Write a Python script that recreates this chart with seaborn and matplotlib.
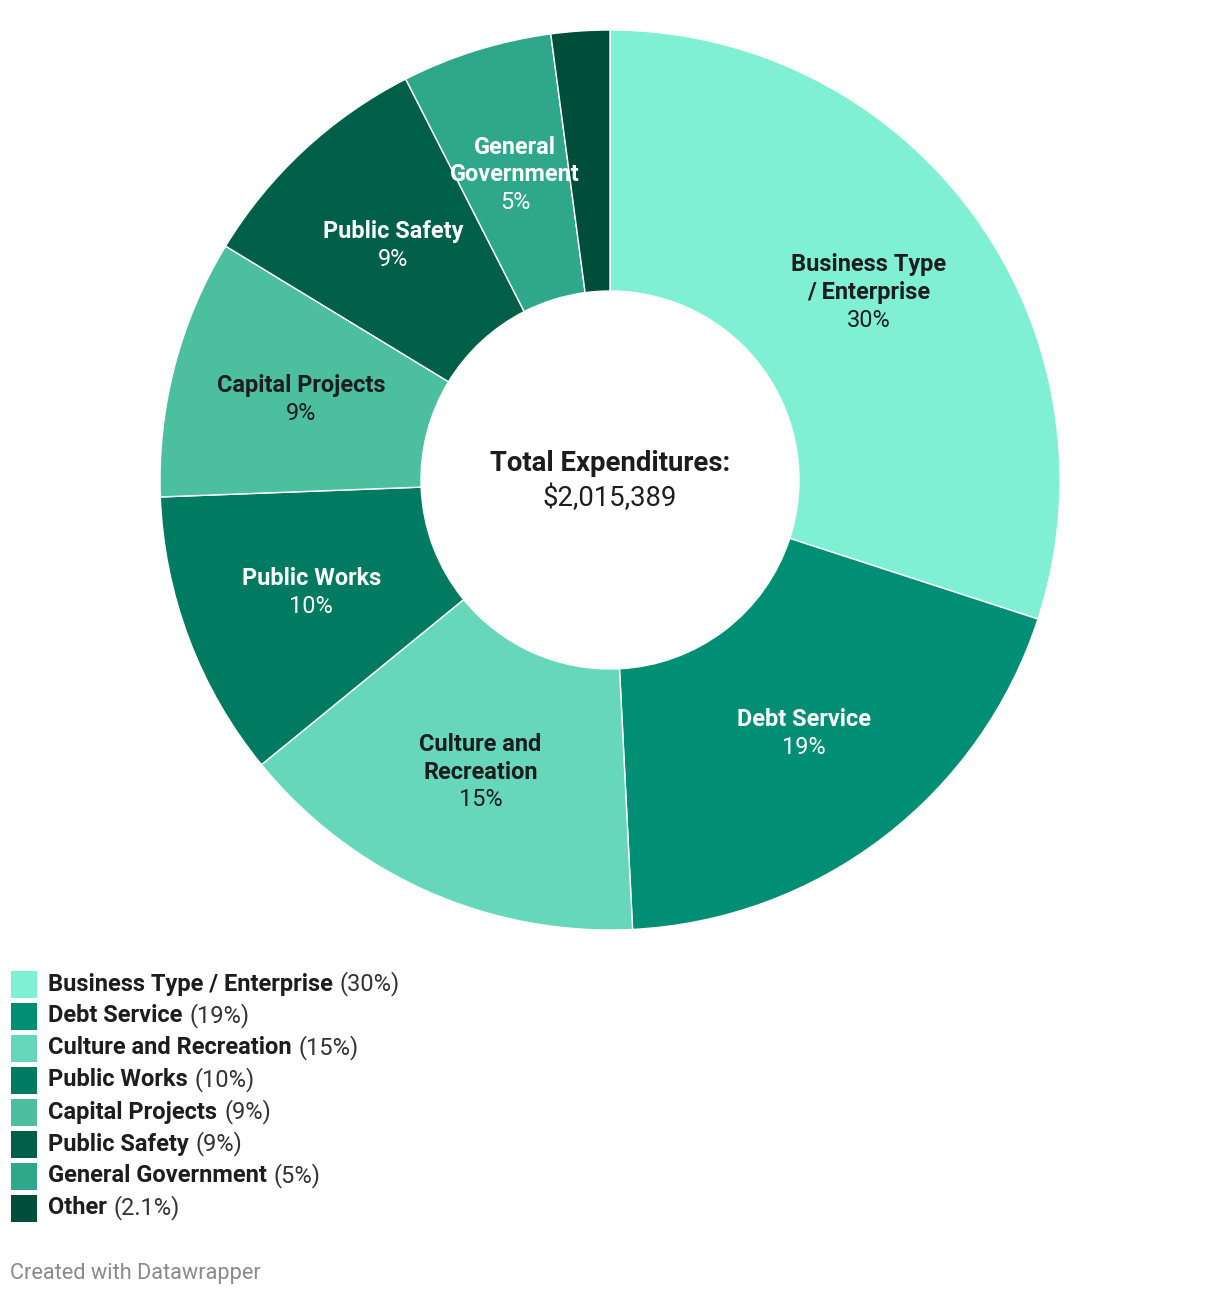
import matplotlib
matplotlib.use("Agg")
import matplotlib.pyplot as plt
import seaborn as sns
import numpy as np
from matplotlib.patches import Rectangle

categories = ["Business Type / Enterprise", "Debt Service", "Culture and Recreation",
              "Public Works", "Capital Projects", "Public Safety", "General Government", "Other"]
wedge_labels = ["Business Type\n/ Enterprise", "Debt Service", "Culture and\nRecreation",
                "Public Works", "Capital Projects", "Public Safety", "General\nGovernment", ""]
shares = [30.0, 19.2, 14.9, 10.3, 9.3, 8.8, 5.4, 2.1]
pct_labels = ["30%", "19%", "15%", "10%", "9%", "9%", "5%", "2.1%"]
colors = ["#7ff0d3", "#008f74", "#66d7bb", "#007a60", "#4cbf9f", "#005f49", "#2fa78b", "#004e3a"]
text_colors = ["#1d1d1d", "white", "#1d1d1d", "white", "#1d1d1d", "white", "white", "white"]
total_label = "Total Expenditures:"
total_value = "$2,015,389"

sns.set_theme(style="white")
plt.rcParams['font.family'] = ['Roboto', 'DejaVu Sans']

W, H = 1220, 1298
fig = plt.figure(figsize=(W / 100, H / 100), dpi=100)
fig.patch.set_facecolor("white")

cx, cy, R, r_in = 610, 480, 450, 189
ax = fig.add_axes([(cx - R) / W, (H - cy - R) / H, 2 * R / W, 2 * R / H])
palette = sns.color_palette(colors)
wedges, _ = ax.pie(shares, colors=palette, startangle=90, counterclock=False,
                   radius=1.0, wedgeprops=dict(width=1 - r_in / R, edgecolor="white", linewidth=1.0))
ax.set_xlim(-1, 1)
ax.set_ylim(-1, 1)
ax.set_aspect("equal")
ax.axis("off")

mid_r = (1 + r_in / R) / 2
fs = 16.9
line = 0.062
for w, lab, pct, tc in zip(wedges, wedge_labels, pct_labels, text_colors):
    if not lab:
        continue
    ang = np.deg2rad((w.theta1 + w.theta2) / 2)
    x, y = mid_r * np.cos(ang), mid_r * np.sin(ang)
    n = lab.count("\n") + 1
    total_lines = n + 1
    top = y + (total_lines - 1) * line / 2
    for i, l in enumerate(lab.split("\n")):
        ax.text(x, top - i * line, l, ha="center", va="center", fontsize=fs,
                fontweight="bold", color=tc)
    ax.text(x, top - n * line, pct, ha="center", va="center", fontsize=fs, color=tc)

ax.text(0, 0.037, total_label, ha="center", va="center", fontsize=19.8, fontweight="bold", color="#1d1d1d")
ax.text(0, -0.04, total_value, ha="center", va="center", fontsize=19.8, color="#1d1d1d")

# legend
renderer = fig.canvas.get_renderer()
row0, step = 984, 32
for i, (cat, pct, col) in enumerate(zip(categories, pct_labels, colors)):
    yc = row0 + i * step
    fig.patches.append(Rectangle((11 / W, (H - yc - 13.5) / H), 26 / W, 27 / H,
                                 transform=fig.transFigure, facecolor=col, edgecolor="none"))
    t = fig.text(48 / W, (H - yc) / H, cat, ha="left", va="center", fontsize=17,
                 fontweight="bold", color="#1d1d1d")
    bb = t.get_window_extent(renderer=renderer)
    fig.text((bb.x1 + 7) / W, (H - yc) / H, f"({pct})", ha="left", va="center",
             fontsize=17, color="#333333")

fig.text(10 / W, (H - 1274) / H, "Created with Datawrapper", ha="left", va="center",
         fontsize=15.7, color="#8a8a8a")

fig.savefig("out.png", dpi=100, facecolor="white")
